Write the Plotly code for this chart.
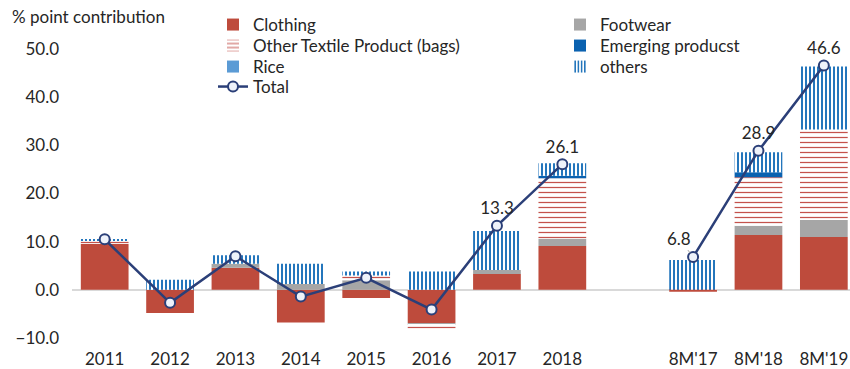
import plotly.graph_objects as go

# Contribution to export growth, percentage points
categories = ["2011", "2012", "2013", "2014", "2015", "2016", "2017", "2018",
              " ", "8M'17", "8M'18", "8M'19"]
clothing = [9.5, -4.8, 4.6, -6.8, -1.7, -6.9, 3.3, 9.1, None, -0.4, 11.4, 11.0]
footwear = [0.0, 0.0, 0.8, 1.2, 2.0, -0.2, 0.8, 1.5, None, 0.0, 1.9, 3.5]
other_textile = [0.7, 0.0, 0.0, 0.0, 1.0, -1.0, 0.0, 12.6, None, 0.0, 10.1, 18.8]
emerging = [0.0, 0.0, 0.0, 0.0, 0.0, 0.0, 0.0, 0.5, None, 0.0, 1.0, 0.0]
rice = [0.0, 0.0, 0.0, 0.0, 0.0, 0.0, 0.0, 0.0, None, 0.0, 0.0, 0.0]
others = [0.3, 2.1, 1.8, 4.2, 0.8, 3.8, 8.1, 2.6, None, 6.2, 4.2, 13.1]
total = [10.5, -2.7, 7.0, -1.4, 2.5, -4.1, 13.3, 26.1, None, 6.8, 28.9, 46.6]
labelled = ["2017", "2018", "8M'18", "8M'19"]
y_ticks = [-10, 0, 10, 20, 30, 40, 50]

FONT = "Lato"
FS = 17
TEXT = "#262626"

# plot-area geometry in pixels (used to place the legend blocks)
W, H = 850, 369
ML, MR, MT, MB = 72, 0, 25, 31
PW, PH = W - ML - MR, H - MT - MB


def px_x(px):
    return (px - ML) / PW


def px_y(py):
    return (H - MB - py) / PH


fig = go.Figure()

fig.add_trace(go.Bar(name="Clothing", x=categories, y=clothing, legend="legend",
                     marker=dict(color="#BE4B3C", line_width=0)))
fig.add_trace(go.Bar(name="Footwear", x=categories, y=footwear, legend="legend2",
                     marker=dict(color="#A6A6A6", line_width=0)))
fig.add_trace(go.Bar(name="Other Textile Product (bags)", x=categories, y=other_textile,
                     legend="legend3",
                     marker=dict(color="white", line_width=0,
                                 pattern=dict(shape="-", fgcolor="#C4524C", bgcolor="white",
                                              fgopacity=1, size=5, solidity=0.25))))
fig.add_trace(go.Bar(name="Emerging producst", x=categories, y=emerging, legend="legend4",
                     marker=dict(color="#0B62B0", line_width=0)))
fig.add_trace(go.Bar(name="Rice", x=categories, y=rice, legend="legend5",
                     marker=dict(color="#5B9BD5", line_width=0)))
fig.add_trace(go.Bar(name="others", x=categories, y=others, legend="legend6",
                     marker=dict(color="white", line_width=0,
                                 pattern=dict(shape="|", fgcolor="#2476BC", bgcolor="white",
                                              fgopacity=1, size=4, solidity=0.5))))

line_text = [f"{v:.1f}" if c in labelled and v is not None else "" for c, v in zip(categories, total)]
fig.add_trace(go.Scatter(name="Total", x=categories, y=total, mode="lines+markers+text",
                         legend="legend7",
                         text=line_text, textposition="top center",
                         textfont=dict(family=FONT, size=FS, color=TEXT),
                         line=dict(color="#2B3F78", width=2.5),
                         marker=dict(symbol="circle", size=10, color="#EEF2FA",
                                     line=dict(color="#2B3F78", width=2)),
                         connectgaps=False, cliponaxis=False))

# 8M'17 label sits off to the left with a leader line
i17 = categories.index("8M'17")
fig.add_annotation(x=categories[i17], y=total[i17], text=f"{total[i17]:.1f}",
                   showarrow=True, arrowhead=0, arrowwidth=1, arrowcolor="#A0A0A0",
                   ax=-14, ay=-19, standoff=5,
                   font=dict(family=FONT, size=FS, color=TEXT))

fig.add_annotation(text="% point contribution", xref="paper", yref="paper",
                   x=px_x(10), y=px_y(17), xanchor="left", yanchor="middle",
                   showarrow=False, font=dict(family=FONT, size=FS, color=TEXT))

# legend laid out as two columns: (text start x, row centre y) per entry
legend_slots = {
    "legend": (255, 25), "legend2": (602, 25),
    "legend3": (255, 46), "legend4": (602, 46),
    "legend5": (255, 67), "legend6": (602, 67),
    "legend7": (255, 87),
}
legend_layout = {}
for key, (tx, ty) in legend_slots.items():
    legend_layout[key] = dict(x=px_x(tx - 42), y=px_y(ty), xanchor="left", yanchor="middle",
                              bgcolor="rgba(0,0,0,0)", borderwidth=0,
                              font=dict(family=FONT, size=FS, color=TEXT))

fig.update_layout(
    width=W, height=H,
    margin=dict(l=ML, r=MR, t=MT, b=MB),
    paper_bgcolor="white", plot_bgcolor="white",
    barmode="relative", bargap=0.27,
    font=dict(family=FONT, size=FS, color=TEXT),
    showlegend=True,
    **legend_layout,
)
fig.update_xaxes(type="category", range=[-0.5, 11.4], showgrid=False, showline=False,
                 ticks="", ticklabelstandoff=9, tickfont=dict(family=FONT, size=FS, color=TEXT))
fig.update_yaxes(range=[-10, 55], tickvals=y_ticks, tickformat=".1f", showgrid=False,
                 showline=False, zeroline=True, zerolinecolor="#D9D9D9", zerolinewidth=1.5,
                 ticks="", ticklabelstandoff=12, tickfont=dict(family=FONT, size=FS, color=TEXT))

fig.write_html("out.html")
